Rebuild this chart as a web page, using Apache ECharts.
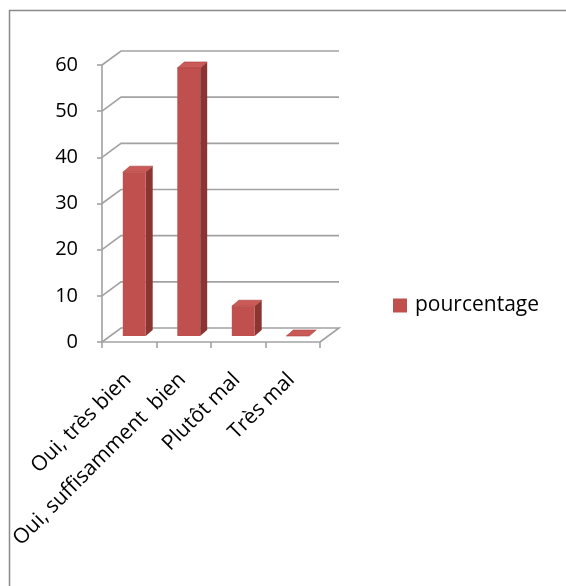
<!DOCTYPE html>
<html>
<head>
<meta charset="utf-8">
<script src="https://cdn.jsdelivr.net/npm/echarts@6/dist/echarts.min.js"></script>
<style>
  html, body { margin: 0; padding: 0; background: #ffffff; }
  #chart { width: 566px; height: 586px; }
</style>
</head>
<body>
<div id="chart"></div>
<script>
// Survey answers and their share (%)
const categories = ['Oui, très bien', 'Oui, suffisamment  bien', 'Plutôt mal', 'Très mal'];
const pourcentage = [35.48, 58.06, 6.45, 0];
const yTicks = [0, 10, 20, 30, 40, 50, 60];
const seriesName = 'pourcentage';

const FONT = '"Open Sans", "Noto Sans", sans-serif';
const GRID_COLOR = '#a2a2a2';
// Depth of the back wall relative to the front plane (px)
const WALL_DX = 19, WALL_DY = 14;
// Column placement inside the depth and the column's own depth (px)
const BAR_LIFT = 6, BAR_SHIFT = 5, BAR_DX = 7, BAR_DY = 6;

function renderWall(params, api) {
  const cs = params.coordSys;
  const v = api.value(1);
  const y = api.coord([0, v])[1];
  const left = cs.x, right = cs.x + cs.width;
  const pts = [[left, y], [left + WALL_DX, y - WALL_DY], [right + WALL_DX, y - WALL_DY]];
  if (v === 0) pts.push([right, y]);
  return {
    type: 'polyline',
    shape: { points: pts },
    style: { stroke: GRID_COLOR, lineWidth: 1.6, fill: null }
  };
}

function renderBar(params, api) {
  const i = api.value(0);
  const v = api.value(1);
  const top = api.coord([i, v]);
  const base = api.coord([i, 0]);
  const w = api.size([1, 0])[0];
  const cx = top[0] + BAR_SHIFT;
  const hw = w * 0.21;
  const x0 = cx - hw, x1 = cx + hw;
  const yT = top[1] - BAR_LIFT, yB = base[1] - BAR_LIFT;
  return {
    type: 'group',
    children: [
      {
        type: 'polygon',
        shape: { points: [[x1, yB], [x1, yT], [x1 + BAR_DX, yT - BAR_DY], [x1 + BAR_DX, yB - BAR_DY]] },
        style: { fill: '#8a3532' }
      },
      {
        type: 'rect',
        shape: { x: x0, y: yT, width: x1 - x0, height: yB - yT },
        style: { fill: '#c0504d' }
      },
      {
        type: 'polygon',
        shape: { points: [[x0, yT], [x1, yT], [x1 + BAR_DX, yT - BAR_DY], [x0 + BAR_DX, yT - BAR_DY]] },
        style: { fill: '#c95a57', stroke: '#a8413e', lineWidth: 0.6 }
      }
    ]
  };
}

const chart = echarts.init(document.getElementById('chart'), null, { renderer: 'canvas' });
chart.setOption({
  animation: false,
  backgroundColor: '#ffffff',
  textStyle: { fontFamily: FONT },
  graphic: [
    {
      // area outside the chart frame stays blank
      type: 'rect',
      shape: { x: 0, y: 0, width: 9, height: 586 },
      style: { fill: '#ffffff' },
      silent: true,
      z: 99
    },
    {
      type: 'polyline',
      shape: { points: [[9.5, 586], [9.5, 10.5], [566, 10.5]] },
      style: { stroke: '#8a8a8a', lineWidth: 1.5, fill: null },
      silent: true,
      z: 100
    }
  ],
  legend: {
    data: [{ name: seriesName, icon: 'rect' }],
    left: 388,
    top: 290,
    itemWidth: 14,
    itemHeight: 14,
    textStyle: { fontSize: 21, color: '#000', fontFamily: FONT, padding: [0, 0, 0, 3] }
  },
  grid: { left: 102, top: 65, width: 218, height: 277, containLabel: false },
  xAxis: {
    type: 'category',
    data: categories,
    boundaryGap: true,
    axisLine: { show: true, lineStyle: { color: GRID_COLOR, width: 1.6 } },
    axisTick: { show: true, length: 6, lineStyle: { color: GRID_COLOR, width: 1.6 } },
    axisLabel: {
      rotate: 45, margin: 33, fontSize: 21, color: '#000', fontFamily: FONT, interval: 0,
      padding: [0, 2, 0, 0]
    },
    splitLine: { show: false }
  },
  yAxis: {
    type: 'value',
    min: 0,
    max: 60,
    interval: 10,
    axisLine: { show: true, lineStyle: { color: GRID_COLOR, width: 1.6 } },
    axisTick: { show: true, length: 5, lineStyle: { color: GRID_COLOR, width: 1.6 } },
    axisLabel: { margin: 24, fontSize: 20, color: '#000', fontFamily: FONT },
    splitLine: { show: false }
  },
  series: [
    {
      name: 'walls',
      type: 'custom',
      renderItem: renderWall,
      data: yTicks.map(t => [0, t]),
      encode: { x: 0, y: 1 },
      clip: false,
      silent: true,
      z: 1
    },
    {
      name: seriesName,
      type: 'custom',
      renderItem: renderBar,
      data: pourcentage.map((v, i) => [i, v]),
      encode: { x: 0, y: 1 },
      itemStyle: { color: '#c0504d' },
      clip: false,
      z: 2
    }
  ]
});
</script>
</body>
</html>
